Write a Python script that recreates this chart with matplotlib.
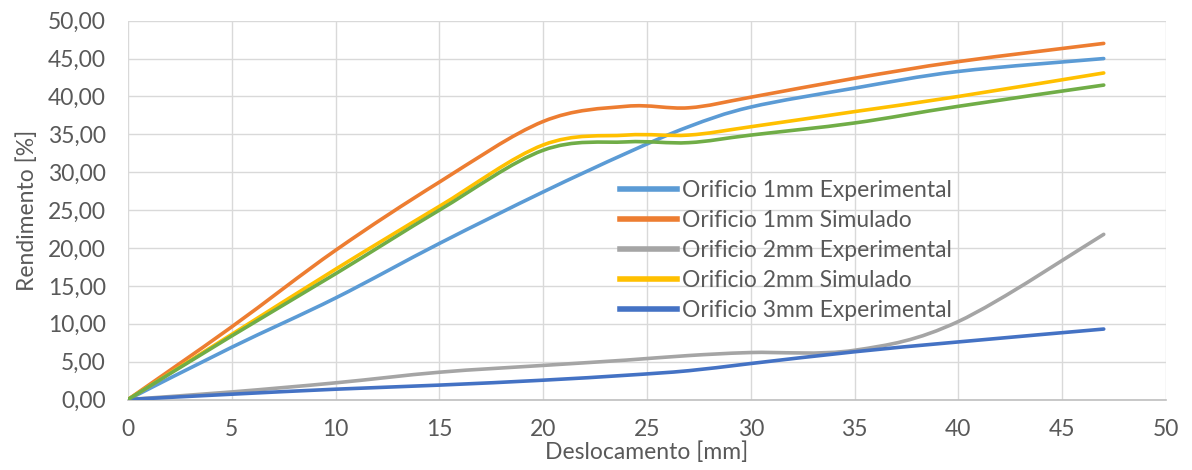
import numpy as np
import matplotlib
matplotlib.use("Agg")
import matplotlib.pyplot as plt
from matplotlib.path import Path
from matplotlib.patches import PathPatch
from matplotlib.lines import Line2D
from matplotlib.ticker import FuncFormatter, MultipleLocator

# Displacement [mm] at which each efficiency was recorded
deslocamento = [0, 5, 10, 15, 20, 24, 27, 30, 35, 40, 47]

# Efficiency [%] per orifice size
exp_1mm = [0, 6.9, 13.4, 20.6, 27.4, 32.5, 36.0, 38.6, 41.1, 43.3, 45.0]
sim_1mm = [0, 9.6, 19.7, 28.7, 36.7, 38.7, 38.5, 39.9, 42.4, 44.6, 47.0]
exp_2mm = [0, 1.0, 2.2, 3.6, 4.5, 5.2, 5.8, 6.2, 6.5, 10.3, 21.8]
sim_2mm = [0, 8.6, 17.2, 25.5, 33.6, 34.9, 34.9, 36.0, 38.0, 40.0, 43.1]
exp_3mm = [0, 0.7, 1.36, 1.9, 2.55, 3.2, 3.8, 4.75, 6.3, 7.6, 9.3]
sim_3mm = [0, 8.4, 16.6, 25.0, 32.9, 34.0, 33.9, 34.9, 36.5, 38.7, 41.5]

labels = [
    "Orificio 1mm Experimental",
    "Orificio 1mm Simulado",
    "Orificio 2mm Experimental",
    "Orificio 2mm Simulado",
    "Orificio 3mm Experimental",
]
colors = ["#5B9BD5", "#ED7D31", "#A5A5A5", "#FFC000", "#4472C4", "#70AD47"]

plt.rcParams["font.family"] = ["Lato", "DejaVu Sans"]
TXT = "#595959"
FS = 16.5


def smooth_path(xs, ys):
    """Bezier path through the points, spreadsheet-style smoothed line."""
    p = np.column_stack([xs, ys]).astype(float)
    n = len(p)
    verts = [p[0]]
    codes = [Path.MOVETO]
    for i in range(n - 1):
        p0 = p[i - 1] if i > 0 else p[i]
        p1 = p[i]
        p2 = p[i + 1]
        p3 = p[i + 2] if i + 2 < n else p[i + 1]
        c1 = p1 + (p2 - p0) / 6.0
        c2 = p2 - (p3 - p1) / 6.0
        verts += [c1, c2, p2]
        codes += [Path.CURVE4] * 3
    return Path(verts, codes)


fig = plt.figure(figsize=(11.92, 4.70), dpi=100)
ax = fig.add_axes([0.1074, 0.150, 0.8708, 0.806])

series = [exp_1mm, sim_1mm, exp_2mm, sim_2mm, exp_3mm, sim_3mm]
for k, (ys, c) in enumerate(zip(series, colors)):
    patch = PathPatch(smooth_path(deslocamento, ys), fill=False, edgecolor=c,
                      lw=2.6, capstyle="round", joinstyle="round", zorder=3 + k)
    ax.add_patch(patch)

ax.set_xlim(0, 50)
ax.set_ylim(0, 50)
ax.xaxis.set_major_locator(MultipleLocator(5))
ax.yaxis.set_major_locator(MultipleLocator(5))
ax.yaxis.set_major_formatter(FuncFormatter(lambda v, _: f"{v:.2f}".replace(".", ",")))
ax.xaxis.set_major_formatter(FuncFormatter(lambda v, _: f"{v:.0f}"))

ax.grid(True, color="#D9D9D9", lw=1.0, zorder=0)
ax.set_axisbelow(True)
for s in ["top", "right", "left"]:
    ax.spines[s].set_visible(False)
ax.spines["bottom"].set_color("#BFBFBF")
ax.spines["bottom"].set_linewidth(1.2)
ax.tick_params(axis="both", length=0, labelsize=FS, colors=TXT)
ax.tick_params(axis="x", pad=14)
ax.tick_params(axis="y", pad=16)

ax.set_xlabel("Deslocamento [mm]", fontsize=FS, color=TXT, labelpad=1)
ax.set_ylabel("Rendimento [%]", fontsize=FS, color=TXT, labelpad=7)

handles = [Line2D([], [], color=c, lw=4) for c in colors[:5]]
leg = ax.legend(handles, labels, loc="upper left", bbox_to_anchor=(0.474, 0.58),
                frameon=False, fontsize=FS, handlelength=2.5, handletextpad=0.2,
                labelspacing=0.39, borderaxespad=0, borderpad=0)
for t in leg.get_texts():
    t.set_color(TXT)

fig.savefig("out.png", dpi=100, facecolor="white")
